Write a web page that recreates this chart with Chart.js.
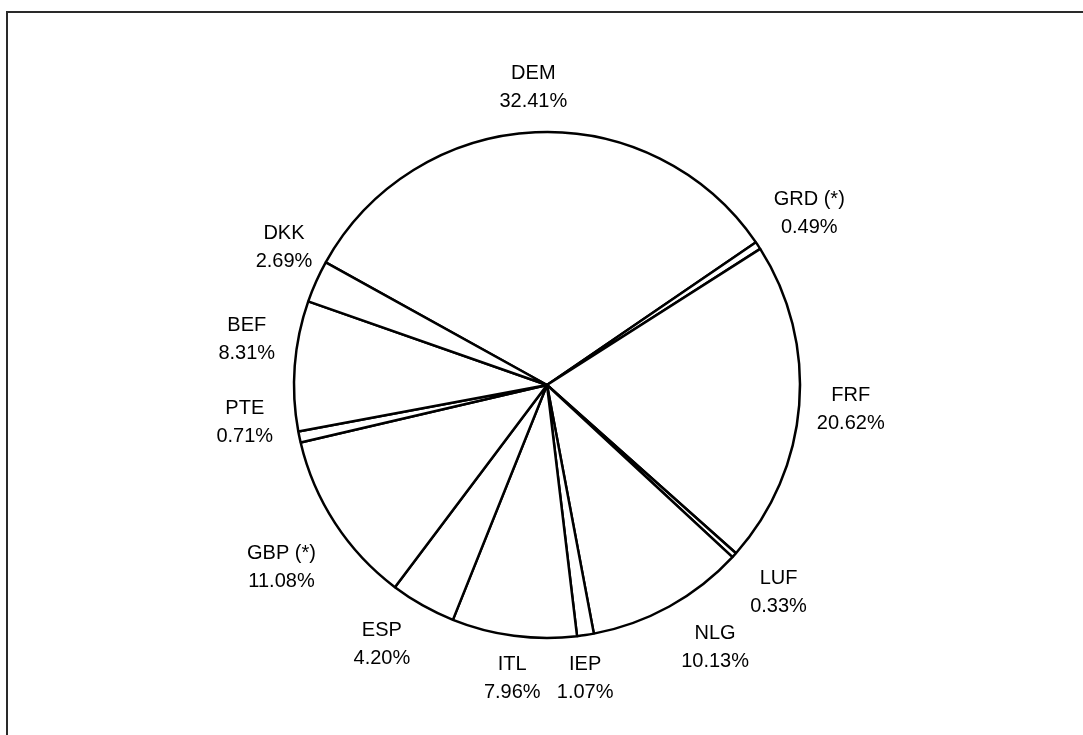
<!DOCTYPE html>
<html>
<head>
<meta charset="utf-8">
<script src="https://cdn.jsdelivr.net/npm/chart.js@4"></script>
<style>
  html, body { margin: 0; padding: 0; background: #fff; }
  #c { display: block; }
</style>
</head>
<body>
<canvas id="c" width="1083" height="735"></canvas>
<script>
// Currency codes, in clockwise order starting from DEM
const currencies = ['DEM', 'GRD (*)', 'FRF', 'LUF', 'NLG', 'IEP', 'ITL', 'ESP', 'GBP (*)', 'PTE', 'BEF', 'DKK'];
// Weight in percent
const shares = [32.41, 0.49, 20.62, 0.33, 10.13, 1.07, 7.96, 4.20, 11.08, 0.71, 8.31, 2.69];

const FONT = '20px "Liberation Sans", Arial, sans-serif';

const framePlugin = {
  id: 'frame',
  beforeDraw(chart) {
    const ctx = chart.ctx;
    ctx.save();
    ctx.fillStyle = '#fff';
    ctx.fillRect(0, 0, chart.width, chart.height);
    ctx.strokeStyle = '#2a2a2a';
    ctx.lineWidth = 2;
    ctx.beginPath();
    ctx.moveTo(7, chart.height);
    ctx.lineTo(7, 12);
    ctx.lineTo(chart.width, 12);
    ctx.stroke();
    ctx.restore();
  }
};

const outsideLabels = {
  id: 'outsideLabels',
  afterDatasetsDraw(chart, args, opts) {
    const ctx = chart.ctx;
    const meta = chart.getDatasetMeta(0);
    const data = chart.data.datasets[0].data;
    const nudge = opts.nudge || [];
    ctx.save();
    ctx.font = FONT;
    ctx.fillStyle = '#000';
    ctx.textAlign = 'center';
    ctx.textBaseline = 'middle';
    const lineGap = 28;
    const blockH = 48;
    const gap = 16;
    meta.data.forEach((arc, i) => {
      const p = arc.getProps(['x', 'y', 'startAngle', 'endAngle', 'outerRadius'], true);
      const mid = (p.startAngle + p.endAngle) / 2;
      const cx = Math.cos(mid), sy = Math.sin(mid);
      const l1 = chart.data.labels[i];
      const l2 = data[i].toFixed(2) + '%';
      const w = Math.max(ctx.measureText(l1).width, ctx.measureText(l2).width);
      const d = p.outerRadius + gap + Math.abs(cx) * w / 2 + Math.abs(sy) * blockH / 2;
      const n = nudge[i] || [0, 0];
      const x = p.x + cx * d + n[0];
      const y = p.y + sy * d + n[1];
      ctx.fillText(l1, x, y - lineGap / 2);
      ctx.fillText(l2, x, y + lineGap / 2);
    });
    ctx.restore();
  }
};

new Chart(document.getElementById('c'), {
  type: 'pie',
  data: {
    labels: currencies,
    datasets: [{
      data: shares,
      backgroundColor: '#ffffff',
      borderColor: '#000000',
      borderWidth: 2.5,
      hoverOffset: 0
    }]
  },
  options: {
    responsive: false,
    animation: false,
    rotation: -61,
    radius: 253,
    layout: { padding: { left: 61, right: 50, top: 85, bottom: 50 } },
    plugins: {
      legend: { display: false },
      tooltip: { enabled: false },
      outsideLabels: {
        // small label placement adjustments (pixels), per slice
        nudge: [[0, -3], [2, 0], [0, 0], [5, 2], [20, -6], [-7, 0], [4, 0], [-16, -5], [-5, 13], [-7, -25], [-2, -23], [15, -13]]
      }
    }
  },
  plugins: [framePlugin, outsideLabels]
});
</script>
</body>
</html>
